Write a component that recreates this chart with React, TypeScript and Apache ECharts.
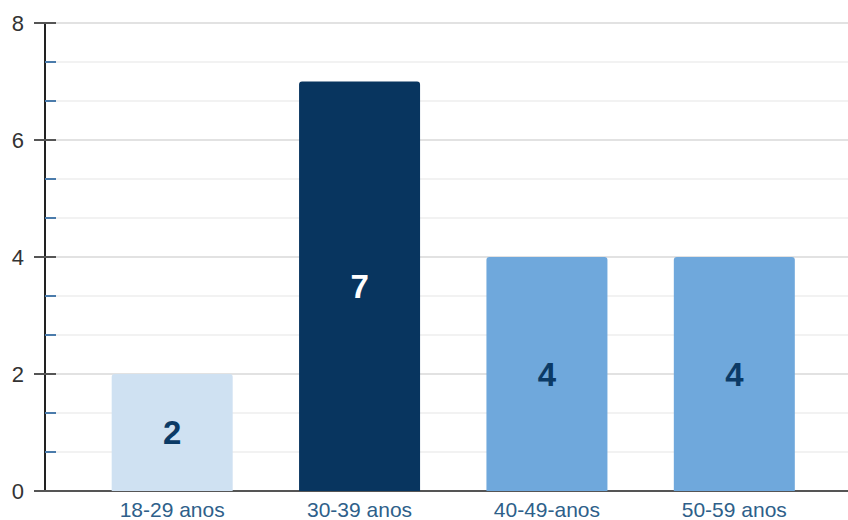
import React, { useEffect, useRef } from "react";
import * as echarts from "echarts";

const categories = ["18-29 anos", "30-39 anos", "40-49-anos", "50-59 anos"];
const values = [2, 7, 4, 4];
const barColors = ["#cfe1f2", "#08355f", "#6fa8dc", "#6fa8dc"];
const labelColors = ["#0b3a66", "#ffffff", "#0b3a66", "#0b3a66"];
const yMin = 0;
const yMax = 8;
const yInterval = 2;

export default function App() {
  const ref = useRef<HTMLDivElement>(null);
  useEffect(() => {
    if (!ref.current) return;
    const chart = echarts.init(ref.current, undefined, { renderer: "svg" });
    const font = "'Liberation Sans', Arial, sans-serif";
    chart.setOption({
      animation: false,
      grid: [
        { left: 45, right: 0, top: 23, bottom: 29, containLabel: false, outerBoundsMode: "none" },
        { left: 78.5, right: 20, top: 23, bottom: 29, containLabel: false, outerBoundsMode: "none" },
      ],
      xAxis: [
        {
          type: "value",
          gridIndex: 0,
          min: 0,
          max: 1,
          axisLine: { show: true, onZero: false, lineStyle: { color: "#555", width: 2 } },
          axisTick: { show: false },
          axisLabel: { show: false },
          splitLine: { show: false },
        },
        {
          type: "category",
          gridIndex: 1,
          data: categories,
          axisLine: { show: false },
          axisTick: { show: false },
          axisLabel: { color: "#2e5f8a", fontSize: 21, lineHeight: 16, fontFamily: font, margin: 10 },
        },
      ],
      yAxis: [
        {
          type: "value",
          gridIndex: 0,
          min: yMin,
          max: yMax,
          interval: yInterval,
          axisLine: { show: true, lineStyle: { color: "#222", width: 2 } },
          axisTick: { show: true, length: 11, lineStyle: { color: "#555", width: 2 } },
          axisLabel: { color: "#333", fontSize: 22, fontFamily: font, margin: 21 },
          splitLine: { show: true, lineStyle: { color: "#d9d9d9", width: 1.5 } },
          minorTick: { show: false, splitNumber: 3 },
          minorSplitLine: { show: true, lineStyle: { color: "#eeeeee", width: 1.5 } },
        },
        {
          type: "value",
          gridIndex: 0,
          min: yMin,
          max: yMax,
          interval: yInterval,
          axisLine: { show: false },
          axisTick: { show: true, inside: true, length: 11, lineStyle: { color: "#555", width: 2 } },
          minorTick: { show: true, splitNumber: 3, length: 11, lineStyle: { color: "#4a7bab", width: 2 } },
          axisLabel: { show: false },
          splitLine: { show: false },
          position: "left",
        },
        {
          type: "value",
          gridIndex: 1,
          min: yMin,
          max: yMax,
          interval: yInterval,
          show: false,
        },
      ],
      series: [
        {
          type: "bar",
          xAxisIndex: 1,
          yAxisIndex: 2,
          barWidth: 121,
          data: values.map((v, i) => ({
            value: v,
            itemStyle: { color: barColors[i], borderRadius: [3, 3, 0, 0] },
            label: { color: labelColors[i] },
          })),
          label: {
            show: true,
            position: "inside",
            fontSize: 33,
            fontWeight: "bold",
            fontFamily: font,
          },
          z: 2,
        },
      ],
    });
    return () => chart.dispose();
  }, []);
  return <div ref={ref} style={{ width: 848, height: 520, position: "absolute", left: 0, top: 0 }} />;
}
